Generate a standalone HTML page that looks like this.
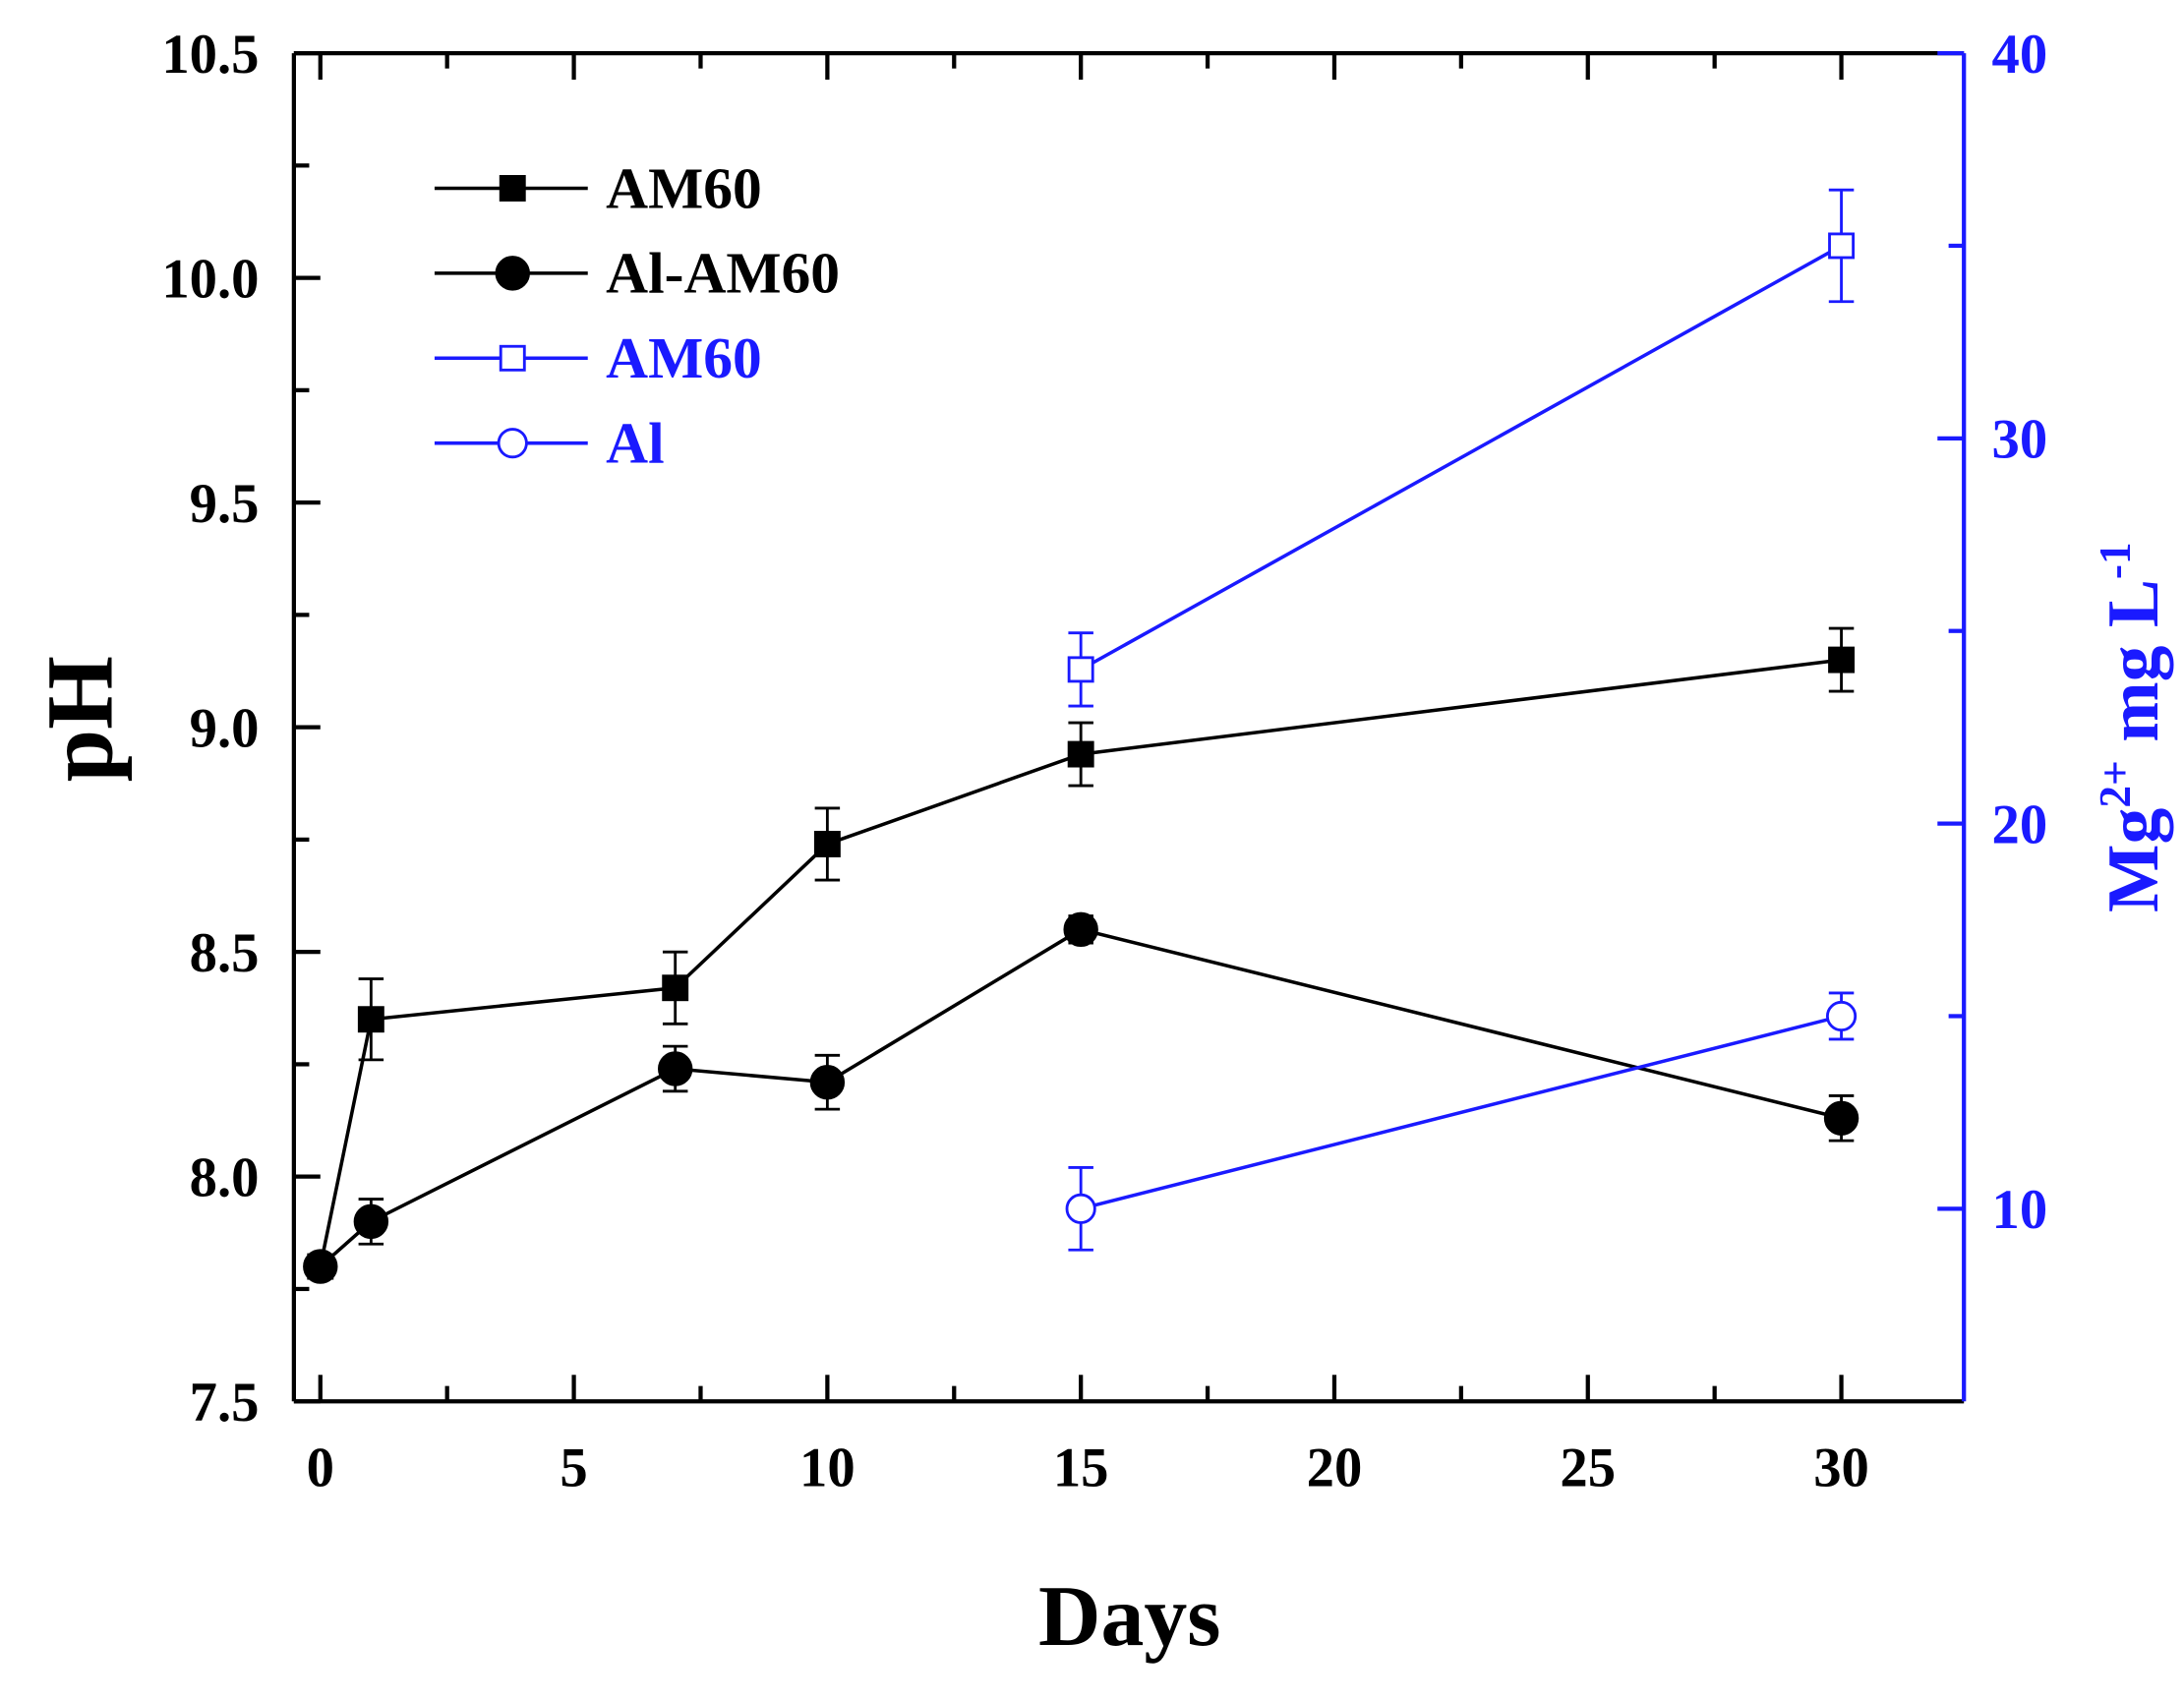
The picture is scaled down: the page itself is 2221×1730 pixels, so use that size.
<!DOCTYPE html>
<html><head><meta charset="utf-8"><style>
html,body{margin:0;padding:0;background:#fff}
svg{display:block}
text{font-family:"Liberation Serif",serif;font-weight:bold}
</style></head><body>
<svg id="chart" width="2221" height="1730" viewBox="0 0 1568 1221" xmlns="http://www.w3.org/2000/svg">
<g id="axes"></g>
<g id="series"></g>
<g id="legend"></g>
<text x="811" y="1181" font-size="62" text-anchor="middle">Days</text>
<text transform="translate(80,516) rotate(-90)" font-size="68" text-anchor="middle">pH</text>
<text transform="translate(1549,522) rotate(-90)" font-size="52" text-anchor="middle" fill="#1a1aff">Mg<tspan font-size="32" dy="-20">2+</tspan><tspan dy="20"> mg L</tspan><tspan font-size="32" dy="-20">-1</tspan></text>
</svg>
<script>
const days = [0, 1, 7, 10, 15, 30];
const phAM60 = [7.8, 8.35, 8.42, 8.74, 8.94, 9.15];
const phAM60Err = [0, 0.09, 0.08, 0.08, 0.07, 0.07];
const phAlAM60 = [7.8, 7.9, 8.24, 8.21, 8.55, 8.13];
const phAlAM60Err = [0, 0.05, 0.05, 0.06, 0.03, 0.05];
const mgDays = [15, 30];
const mgAM60 = [24, 35];
const mgAM60Err = [0.95, 1.45];
const mgAl = [10, 15];
const mgAlErr = [1.07, 0.6];
const xTicks = [0, 5, 10, 15, 20, 25, 30];
const yTicks = [7.5, 8.0, 8.5, 9.0, 9.5, 10.0, 10.5];
const y2Ticks = [10, 20, 30, 40];

const L=211,R=1410,T=38,B=1006;
const X=v=>230+(v)*(1322-230)/30;
const Y=v=>B-(v-7.5)*(B-T)/3;
const Y2=v=>B-(v-5)*(B-T)/35;
const NS="http://www.w3.org/2000/svg";
function mk(parent,tag,attrs){const e=document.createElementNS(NS,tag);for(const k in attrs)e.setAttribute(k,attrs[k]);parent.appendChild(e);return e;}
const ax=document.getElementById('axes');
const blue="#1a1aff";
let e;
e=mk(ax,'line',{x1:L,y1:B,x2:R,y2:B,stroke:'#000','stroke-width':3});


e=mk(ax,'line',{x1:L,y1:T,x2:R,y2:T,stroke:'#000','stroke-width':3});


e=mk(ax,'line',{x1:L,y1:T,x2:L,y2:B,stroke:'#000','stroke-width':3});


e=mk(ax,'line',{x1:R,y1:T,x2:R,y2:B,stroke:blue,'stroke-width':3});


for(let v=0;v<=32.5;v+=2.5){const maj=(v%5===0);const len=maj?19:11;const x=X(v);if(x>R-2)continue;
 mk(ax,'line',{x1:x,y1:B,x2:x,y2:B-len,stroke:'#000','stroke-width':3});
 mk(ax,'line',{x1:x,y1:T,x2:x,y2:T+len,stroke:'#000','stroke-width':3});}
xTicks.forEach(v=>{e=mk(ax,'text',{x:X(v),y:1067,'font-size':40,'text-anchor':'middle'});e.textContent=String(v);

});
for(let v=7.5;v<=10.5001;v+=0.25){const maj=Math.abs((v*2)-Math.round(v*2))<1e-6;const len=maj?19:11;
 mk(ax,'line',{x1:L,y1:Y(v),x2:L+len,y2:Y(v),stroke:'#000','stroke-width':3});}
yTicks.forEach(v=>{e=mk(ax,'text',{x:186,y:Y(v)+14,'font-size':40,'text-anchor':'end'});e.textContent=v.toFixed(1);

});
for(let v=10;v<=40;v+=5){const len=(v%10===0)?19:11;
 mk(ax,'line',{x1:R,y1:Y2(v),x2:R-len,y2:Y2(v),stroke:blue,'stroke-width':3});}
y2Ticks.forEach(v=>{e=mk(ax,'text',{x:1430,y:Y2(v)+14,'font-size':40,fill:blue});e.textContent=String(v);

});

const sg=document.getElementById('series');
function errbar(g,x,y1,y2,col){mk(g,'line',{x1:x,y1:y1,x2:x,y2:y2,stroke:col,'stroke-width':2});
 mk(g,'line',{x1:x-9,y1:y1,x2:x+9,y2:y1,stroke:col,'stroke-width':2});
 mk(g,'line',{x1:x-9,y1:y2,x2:x+9,y2:y2,stroke:col,'stroke-width':2});}
function marker(g,type,x,y,col,fill){if(type==='sq')return mk(g,'rect',{x:x-8.5,y:y-8.5,width:17,height:17,fill:fill,stroke:col,'stroke-width':2});
 return mk(g,'circle',{cx:x,cy:y,r:type==='bigc'?11.5:10,fill:fill,stroke:col,'stroke-width':2});}
function series(name,xs,ys,errs,yf,col,type,fill){const g=mk(sg,'g',{});
 
 
 mk(g,'polyline',{points:xs.map((d,i)=>X(d)+','+yf(ys[i])).join(' '),fill:'none',stroke:col,'stroke-width':2.5});
 xs.forEach((d,i)=>{if(errs[i]>0)errbar(g,X(d),yf(ys[i]+errs[i]),yf(ys[i]-errs[i]),col);});
 xs.forEach((d,i)=>{const m=marker(g,type,X(d),yf(ys[i]),col,fill);
 
 });}
series('ph-am60-series',days,phAM60,phAM60Err,Y,'#000','sq','#000');
series('ph-al-am60-series',days,phAlAM60,phAlAM60Err,Y,'#000','bigc','#000');
series('mg-am60-series',mgDays,mgAM60,mgAM60Err,Y2,blue,'sq','#fff');
series('mg-al-series',mgDays,mgAl,mgAlErr,Y2,blue,'c','#fff');

const lg=document.getElementById('legend');
const lgItems=[['AM60','#000','sq','#000',135],['Al-AM60','#000','bigc','#000',196],['AM60',blue,'sq','#fff',257],['Al',blue,'c','#fff',318]];
lgItems.forEach(it=>{const g=mk(lg,'g',{});
 
 
 mk(g,'line',{x1:312,y1:it[4],x2:422,y2:it[4],stroke:it[1],'stroke-width':2.5});
 marker(g,it[2],368,it[4],it[1],it[3]);
 const t=mk(g,'text',{x:435,y:it[4]+14,'font-size':42,fill:it[1]});t.textContent=it[0];});
</script>
</body></html>
